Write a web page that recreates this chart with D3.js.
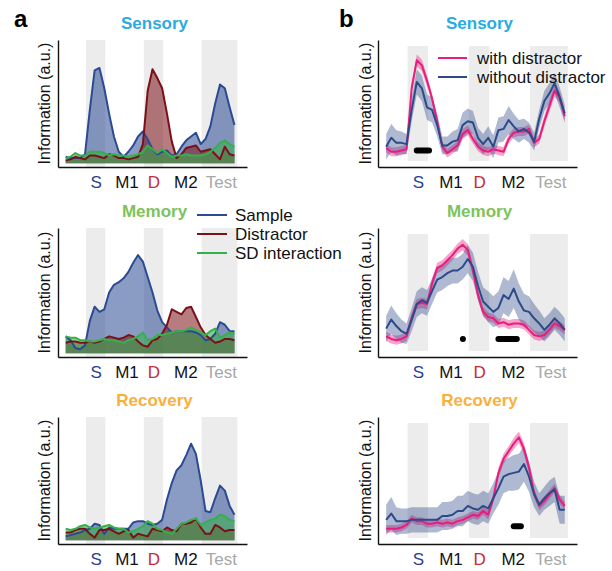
<!DOCTYPE html>
<html>
<head>
<meta charset="utf-8">
<script src="https://cdn.jsdelivr.net/npm/d3@7"></script>
<style>
  body { margin: 0; background: #fff; }
  text { font-family: "Liberation Sans", Arial, Helvetica, sans-serif; }
</style>
</head>
<body>
<div class="canvas"></div>
<script>
/*--------------------------------
  DATA
--------------------------------*/
// time bins (s, relative to sample onset)
const times = [-1.05, -0.8, -0.55, -0.3, -0.05, 0.2, 0.45, 0.7, 0.95, 1.2, 1.45, 1.7,
  1.95, 2.2, 2.45, 2.7, 2.95, 3.2, 3.45, 3.7, 3.95, 4.2, 4.45, 4.7,
  4.95, 5.2, 5.45, 5.7, 5.95, 6.2, 6.45, 6.7, 6.95, 7.2, 7.45, 7.7];

const epochLabels = ['S', 'M1', 'D', 'M2', 'Test'];
const epochLabelPos = [0.5, 2.1, 3.5, 5.15, 7.0];
const stimEpochs = [[0, 1], [3, 4], [6, 7.85]];

const subspaces = ['Sensory', 'Memory', 'Recovery'];

// panel a: information per subspace
const sensorySample = [.08, .07, .07, .07, .10, .45, .76, .78, .62, .42, .24, .12,
  .08, .12, .17, .24, .28, .22, .14, .10, .12, .13, .09, .10,
  .16, .21, .24, .27, .18, .22, .32, .50, .65, .62, .47, .33];
const sensoryDistractor = [.05, .06, .08, .07, .06, .09, .09, .08, .07, .10, .09, .07,
  .07, .06, .07, .08, .18, .60, .77, .70, .62, .42, .20, .07,
  .10, .15, .16, .17, .12, .13, .14, .10, .06, .16, .10, .09];
const sensoryInteraction = [.07, .08, .11, .09, .09, .12, .12, .12, .11, .09, .10, .09,
  .09, .08, .09, .10, .12, .17, .14, .11, .14, .11, .08, .09,
  .09, .10, .09, .09, .09, .10, .12, .15, .19, .21, .18, .16];

const memorySample = [.16, .13, .07, .06, .09, .28, .39, .35, .37, .50, .56, .58,
  .61, .66, .73, .79, .74, .62, .50, .36, .27, .23, .19, .20,
  .20, .20, .20, .19, .17, .13, .14, .18, .27, .25, .20, .20];
const memoryDistractor = [.11, .12, .12, .11, .11, .12, .11, .12, .14, .16, .15, .14,
  .15, .17, .16, .12, .09, .08, .13, .14, .18, .25, .37, .35,
  .33, .38, .39, .31, .23, .17, .14, .11, .12, .14, .14, .13];
const memoryInteraction = [.16, .15, .15, .13, .13, .12, .12, .13, .14, .13, .13, .12,
  .11, .13, .14, .16, .19, .13, .14, .17, .17, .18, .19, .20,
  .20, .21, .23, .21, .19, .17, .20, .22, .15, .17, .19, .18];

const recoverySample = [.06, .07, .08, .09, .11, .12, .16, .15, .08, .13, .12, .12,
  .12, .12, .17, .18, .18, .16, .15, .16, .19, .35, .48, .58,
  .62, .70, .79, .71, .50, .26, .25, .36, .46, .42, .30, .23];
const recoveryDistractor = [.09, .09, .11, .12, .12, .08, .05, .11, .11, .12, .10, .08,
  .10, .11, .05, .08, .07, .06, .12, .11, .10, .13, .11, .10,
  .16, .16, .17, .20, .13, .08, .08, .15, .13, .10, .11, .11];
const recoveryInteraction = [.12, .11, .12, .14, .15, .13, .12, .13, .14, .15, .13, .12,
  .12, .09, .10, .12, .14, .18, .16, .12, .11, .09, .08, .12,
  .16, .17, .19, .20, .15, .17, .19, .20, .23, .22, .19, .18];

// panel b: sample information with / without distractor (mean and sem)
const sensoryWith = [.15, .12, .12, .13, .14, .62, .84, .80, .68, .54, .36, .16,
  .11, .14, .17, .26, .29, .22, .16, .13, .12, .14, .13, .12,
  .22, .27, .28, .28, .30, .19, .22, .36, .48, .60, .55, .40];
const sensoryWithSem = [.035, .035, .035, .035, .035, .04, .045, .045, .04, .035, .035, .035,
  .035, .035, .035, .04, .04, .035, .035, .035, .035, .035, .035, .035,
  .035, .035, .035, .035, .035, .035, .035, .04, .045, .045, .045, .045];
const sensoryWithout = [.16, .23, .19, .19, .18, .45, .67, .62, .47, .45, .33, .17,
  .17, .20, .21, .33, .36, .35, .23, .18, .23, .16, .29, .30,
  .37, .32, .28, .30, .27, .20, .38, .52, .58, .66, .55, .42];
const sensoryWithoutSem = [.10, .11, .10, .09, .08, .09, .10, .10, .10, .10, .09, .07,
  .07, .08, .09, .10, .10, .09, .08, .08, .09, .09, .10, .10,
  .11, .10, .09, .08, .08, .07, .07, .08, .08, .08, .08, .07];

const memoryWith = [.16, .14, .13, .14, .16, .30, .41, .42, .41, .57, .69, .71,
  .75, .79, .84, .87, .83, .67, .48, .35, .31, .30, .26, .27,
  .25, .26, .26, .25, .21, .17, .16, .17, .21, .26, .24, .21];
const memoryWithSem = [.035, .035, .035, .035, .035, .04, .04, .04, .04, .04, .04, .04,
  .04, .04, .04, .045, .045, .04, .04, .035, .035, .035, .035, .035,
  .035, .035, .035, .035, .035, .035, .035, .035, .035, .035, .035, .035];
const memoryWithout = [.22, .29, .24, .20, .18, .29, .41, .44, .42, .51, .60, .62,
  .65, .67, .67, .70, .76, .70, .55, .43, .39, .35, .38, .48,
  .45, .53, .43, .36, .35, .30, .26, .21, .25, .30, .26, .21];
const memoryWithoutSem = [.10, .11, .10, .09, .08, .09, .10, .10, .10, .10, .10, .10,
  .10, .10, .10, .10, .11, .11, .11, .11, .12, .12, .13, .14,
  .14, .15, .14, .13, .12, .11, .10, .09, .09, .09, .09, .09];

const recoveryWith = [.12, .12, .12, .13, .15, .20, .18, .18, .16, .16, .17, .16,
  .17, .16, .18, .19, .21, .23, .22, .26, .23, .36, .56, .67,
  .73, .79, .84, .75, .60, .40, .30, .34, .39, .44, .35, .30];
const recoveryWithSem = [.03, .03, .03, .03, .03, .03, .03, .03, .03, .03, .03, .03,
  .03, .03, .03, .03, .03, .03, .03, .03, .035, .035, .04, .04,
  .04, .045, .045, .045, .04, .035, .035, .035, .035, .035, .035, .035];
const recoveryWithout = [.19, .24, .18, .18, .18, .19, .19, .19, .19, .19, .19, .22,
  .22, .23, .26, .26, .30, .28, .27, .30, .28, .36, .44, .53,
  .55, .56, .57, .63, .53, .39, .31, .36, .40, .43, .27, .27];
const recoveryWithoutSem = [.12, .13, .11, .10, .10, .10, .10, .10, .10, .10, .10, .11,
  .11, .11, .12, .12, .12, .12, .12, .12, .12, .12, .13, .13,
  .13, .14, .14, .14, .12, .10, .09, .09, .10, .10, .11, .11];

// significant clusters (start, end) and bar level
const sensorySig = [[0.45, 1.05]];
const memorySig = [[2.71, 2.71], [4.45, 5.35]];
const recoverySig = [[5.2, 5.55]];
const sigLevel = [0.13, 0.14, 0.14];

/*--------------------------------
  SETUP
--------------------------------*/
const svg = d3.select('.canvas')
  .append('svg')
  .attr('width', 612)
  .attr('height', 571);

const rowTop = [40, 228, 417];
const rowBottom = [167, 357, 544];
const titleColors = ['#29abe2', '#7dc35b', '#fbb03b'];
const tickColors = ['#2b3f91', '#111', '#c62a36', '#111', '#a8a8a8'];

const aColors = { sample: '#2b4a94', distractor: '#7a1018', interaction: '#36b04a' };
const bColors = { with: '#ec1c7c', without: '#2c4a8a' };

const panelA = [
  [sensorySample, sensoryDistractor, sensoryInteraction],
  [memorySample, memoryDistractor, memoryInteraction],
  [recoverySample, recoveryDistractor, recoveryInteraction],
];
const panelB = [
  [sensoryWith, sensoryWithSem, sensoryWithout, sensoryWithoutSem, sensorySig],
  [memoryWith, memoryWithSem, memoryWithout, memoryWithoutSem, memorySig],
  [recoveryWith, recoveryWithSem, recoveryWithout, recoveryWithoutSem, recoverySig],
];

// shared frame: grey epochs, axes, labels
const drawFrame = (g, x, y, i, inset, labelX) => {
  g.selectAll('rect.epoch')
    .data(stimEpochs)
    .enter()
    .append('rect')
    .attr('class', 'epoch')
    .attr('x', d => x(d[0]))
    .attr('width', d => x(d[1]) - x(d[0]))
    .attr('y', rowTop[i] + inset)
    .attr('height', rowBottom[i] - rowTop[i] - 2 * inset)
    .attr('fill', '#ececec');

  const xAxis = d3.axisBottom(x)
    .tickValues(epochLabelPos)
    .tickSize(0)
    .tickPadding(9)
    .tickFormat((d, k) => epochLabels[k]);
  const xg = g.append('g')
    .attr('transform', `translate(0, ${rowBottom[i]})`)
    .call(xAxis);
  xg.select('.domain').attr('stroke', '#111').attr('stroke-width', 1.4);
  xg.selectAll('text')
    .attr('font-size', 17)
    .attr('font-family', '"Liberation Sans", Arial, sans-serif')
    .attr('fill', (d, k) => tickColors[k]);

  const yg = g.append('g')
    .attr('transform', `translate(${x.range()[0]}, 0)`)
    .call(d3.axisLeft(y).tickValues([]).tickSizeOuter(0));
  yg.select('.domain').attr('stroke', '#111').attr('stroke-width', 1.4);

  g.append('text')
    .attr('transform', `translate(${labelX}, ${(rowTop[i] + rowBottom[i]) / 2}) rotate(-90)`)
    .attr('text-anchor', 'middle')
    .attr('font-size', 16)
    .attr('fill', '#111')
    .text('Information (a.u.)');

  g.append('text')
    .attr('x', d3.mean(x.range()) + 2)
    .attr('y', rowTop[i] - 11)
    .attr('text-anchor', 'middle')
    .attr('font-size', 17)
    .attr('font-weight', 'bold')
    .attr('fill', titleColors[i])
    .text(subspaces[i]);
};

/*--------------------------------
  PANEL A
--------------------------------*/
const xA = d3.scaleLinear().domain([-1.45, 8.35]).range([58, 247]);

panelA.forEach((series, i) => {
  const g = svg.append('g');
  const y = d3.scaleLinear().domain([0, 1]).range([rowBottom[i], rowTop[i]]);
  drawFrame(g, xA, y, i, 0, 50);

  const area = d3.area()
    .x((d, k) => xA(times[k]))
    .y0(y(0.03))
    .y1(d => y(d));
  const line = d3.line()
    .x((d, k) => xA(times[k]))
    .y(d => y(d));

  const cols = [aColors.sample, aColors.distractor, aColors.interaction];
  series.forEach((s, k) => {
    g.append('path')
      .attr('d', area(s))
      .attr('fill', cols[k])
      .attr('fill-opacity', 0.55);
  });
  series.forEach((s, k) => {
    g.append('path')
      .attr('d', line(s))
      .attr('fill', 'none')
      .attr('stroke', cols[k])
      .attr('stroke-width', 2)
      .attr('stroke-linejoin', 'round');
  });
});

// legend a
const legendA = svg.append('g');
[['Sample', aColors.sample], ['Distractor', aColors.distractor], ['SD interaction', aColors.interaction]]
  .forEach(([name, col], k) => {
    const yy = 215 + k * 19;
    legendA.append('line')
      .attr('x1', 197).attr('x2', 227)
      .attr('y1', yy).attr('y2', yy)
      .attr('stroke', col).attr('stroke-width', 2);
    legendA.append('text')
      .attr('x', 235).attr('y', yy + 6)
      .attr('font-size', 17).attr('fill', '#111')
      .text(name);
  });

/*--------------------------------
  PANEL B
--------------------------------*/
const xB = d3.scaleLinear().domain([-1.45, 8.3]).range([378, 577]);

panelB.forEach(([withM, withS, withoutM, withoutS, sig], i) => {
  const g = svg.append('g');
  const y = d3.scaleLinear().domain([0, 1]).range([rowBottom[i], rowTop[i]]);
  drawFrame(g, xB, y, i, 6, 371);

  const band = sem => d3.area()
    .x((d, k) => xB(times[k]))
    .y0((d, k) => y(d - sem[k]))
    .y1((d, k) => y(d + sem[k]));
  const line = d3.line()
    .x((d, k) => xB(times[k]))
    .y(d => y(d));

  g.append('path').attr('d', band(withS)(withM))
    .attr('fill', bColors.with).attr('fill-opacity', 0.4);
  g.append('path').attr('d', band(withoutS)(withoutM))
    .attr('fill', bColors.without).attr('fill-opacity', 0.38);
  g.append('path').attr('d', line(withM))
    .attr('fill', 'none').attr('stroke', bColors.with)
    .attr('stroke-width', 2).attr('stroke-linejoin', 'round');
  g.append('path').attr('d', line(withoutM))
    .attr('fill', 'none').attr('stroke', bColors.without)
    .attr('stroke-width', 2).attr('stroke-linejoin', 'round');

  g.selectAll('line.sig')
    .data(sig)
    .enter()
    .append('line')
    .attr('class', 'sig')
    .attr('x1', d => xB(d[0]))
    .attr('x2', d => xB(d[1]))
    .attr('y1', y(sigLevel[i]))
    .attr('y2', y(sigLevel[i]))
    .attr('stroke', '#000')
    .attr('stroke-width', 6)
    .attr('stroke-linecap', 'round');
});

// legend b
const legendB = svg.append('g');
[['with distractor', bColors.with], ['without distractor', bColors.without]]
  .forEach(([name, col], k) => {
    const yy = 58 + k * 19;
    legendB.append('line')
      .attr('x1', 438).attr('x2', 467)
      .attr('y1', yy).attr('y2', yy)
      .attr('stroke', col).attr('stroke-width', 2);
    legendB.append('text')
      .attr('x', 477).attr('y', yy + 6)
      .attr('font-size', 17).attr('fill', '#111')
      .text(name);
  });

// panel letters
svg.append('text').attr('x', 14).attr('y', 27)
  .attr('font-size', 24).attr('font-weight', 'bold').text('a');
svg.append('text').attr('x', 339).attr('y', 27)
  .attr('font-size', 24).attr('font-weight', 'bold').text('b');
</script>
</body>
</html>
